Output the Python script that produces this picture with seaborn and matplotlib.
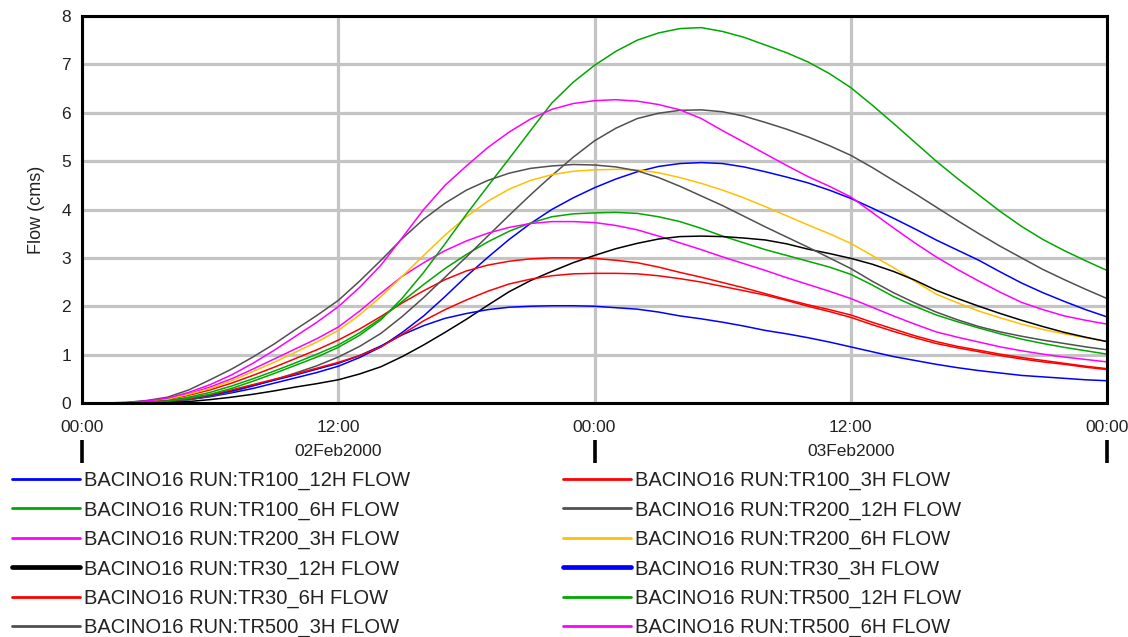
import numpy as np
import pandas as pd
import matplotlib
matplotlib.use("Agg")
import matplotlib.pyplot as plt
import matplotlib.transforms as mtransforms
from matplotlib.lines import Line2D
import seaborn as sns

# ---------------- data ----------------
hours = list(range(0, 49))  # hours since 02Feb2000 00:00
tick_hours = [0, 12, 24, 36, 48]
tick_labels = ["00:00", "12:00", "00:00", "12:00", "00:00"]
day_starts = [0, 24, 48]
day_label_hours = [12, 36]
day_labels = ["02Feb2000", "03Feb2000"]
y_ticks = [0, 1, 2, 3, 4, 5, 6, 7, 8]

tr100_12h = [0, 0, 0, 0.01, 0.03, 0.07, 0.13, 0.21, 0.30, 0.41, 0.52, 0.63, 0.76, 0.94, 1.16, 1.46,
             1.80, 2.20, 2.62, 3.01, 3.38, 3.71, 4.00, 4.24, 4.45, 4.63, 4.78, 4.89, 4.95, 4.97,
             4.95, 4.88, 4.78, 4.67, 4.55, 4.40, 4.23, 4.03, 3.82, 3.60, 3.37, 3.16, 2.95, 2.71,
             2.48, 2.28, 2.10, 1.93, 1.78]
tr100_3h = [0, 0, 0, 0.03, 0.07, 0.16, 0.27, 0.41, 0.57, 0.74, 0.92, 1.10, 1.30, 1.53, 1.79, 2.07,
            2.32, 2.55, 2.73, 2.85, 2.93, 2.98, 3.00, 3.00, 2.99, 2.95, 2.90, 2.81, 2.70, 2.60,
            2.49, 2.38, 2.26, 2.14, 2.03, 1.93, 1.82, 1.67, 1.53, 1.39, 1.27, 1.17, 1.09, 1.01,
            0.94, 0.88, 0.82, 0.76, 0.71]
tr100_6h = [0, 0, 0, 0.02, 0.05, 0.12, 0.22, 0.35, 0.50, 0.66, 0.83, 1.01, 1.20, 1.45, 1.75, 2.10,
            2.45, 2.78, 3.07, 3.33, 3.55, 3.72, 3.85, 3.91, 3.93, 3.94, 3.92, 3.85, 3.75, 3.61,
            3.45, 3.31, 3.17, 3.05, 2.93, 2.81, 2.66, 2.44, 2.20, 2.00, 1.82, 1.68, 1.55, 1.43,
            1.32, 1.23, 1.15, 1.08, 1.01]
tr200_12h = [0, 0, 0, 0.01, 0.03, 0.07, 0.14, 0.23, 0.35, 0.48, 0.62, 0.77, 0.95, 1.17, 1.44, 1.79,
             2.18, 2.60, 3.02, 3.45, 3.88, 4.30, 4.70, 5.08, 5.42, 5.68, 5.88, 5.99, 6.05, 6.06,
             6.02, 5.93, 5.80, 5.66, 5.50, 5.32, 5.12, 4.87, 4.60, 4.33, 4.05, 3.77, 3.50, 3.24,
             3.00, 2.76, 2.55, 2.35, 2.16]
tr200_3h = [0, 0, 0, 0.04, 0.09, 0.19, 0.33, 0.50, 0.70, 0.91, 1.12, 1.33, 1.57, 1.90, 2.27, 2.62,
            2.90, 3.15, 3.35, 3.51, 3.63, 3.71, 3.75, 3.75, 3.73, 3.67, 3.58, 3.45, 3.31, 3.17,
            3.02, 2.88, 2.74, 2.59, 2.45, 2.31, 2.16, 1.98, 1.80, 1.63, 1.47, 1.36, 1.26, 1.16,
            1.08, 1.01, 0.95, 0.90, 0.85]
tr200_6h = [0, 0, 0, 0.03, 0.08, 0.18, 0.30, 0.46, 0.65, 0.84, 1.05, 1.26, 1.50, 1.82, 2.20, 2.62,
            3.05, 3.47, 3.85, 4.17, 4.42, 4.60, 4.72, 4.79, 4.82, 4.83, 4.82, 4.76, 4.66, 4.54,
            4.40, 4.24, 4.06, 3.87, 3.68, 3.50, 3.30, 3.05, 2.80, 2.52, 2.25, 2.07, 1.90, 1.76,
            1.63, 1.52, 1.43, 1.35, 1.27]
tr30_12h = [0, 0, 0, 0, 0.01, 0.03, 0.07, 0.12, 0.18, 0.25, 0.33, 0.40, 0.48, 0.60, 0.75, 0.96,
            1.20, 1.46, 1.73, 2.02, 2.30, 2.53, 2.72, 2.90, 3.05, 3.19, 3.30, 3.39, 3.44, 3.45,
            3.44, 3.41, 3.37, 3.29, 3.18, 3.09, 2.99, 2.87, 2.72, 2.54, 2.33, 2.16, 2.00, 1.85,
            1.71, 1.58, 1.46, 1.36, 1.27]
tr30_3h = [0, 0, 0, 0.02, 0.04, 0.09, 0.16, 0.25, 0.36, 0.47, 0.58, 0.70, 0.82, 0.98, 1.18, 1.41,
           1.60, 1.75, 1.85, 1.93, 1.98, 2.00, 2.01, 2.01, 2.00, 1.97, 1.94, 1.88, 1.80, 1.74,
           1.67, 1.59, 1.50, 1.43, 1.35, 1.26, 1.16, 1.06, 0.96, 0.88, 0.80, 0.73, 0.67, 0.62,
           0.57, 0.54, 0.51, 0.48, 0.46]
tr30_6h = [0, 0, 0, 0.02, 0.04, 0.09, 0.17, 0.27, 0.38, 0.49, 0.60, 0.72, 0.84, 0.98, 1.16, 1.42,
           1.70, 1.93, 2.13, 2.31, 2.46, 2.56, 2.63, 2.67, 2.68, 2.68, 2.67, 2.63, 2.57, 2.50,
           2.41, 2.32, 2.23, 2.12, 2.00, 1.89, 1.77, 1.62, 1.48, 1.35, 1.23, 1.14, 1.06, 0.98,
           0.91, 0.85, 0.80, 0.74, 0.69]
tr500_12h = [0, 0, 0, 0.01, 0.04, 0.10, 0.18, 0.30, 0.45, 0.61, 0.78, 0.95, 1.15, 1.40, 1.72, 2.17,
             2.70, 3.29, 3.90, 4.48, 5.05, 5.63, 6.20, 6.63, 6.98, 7.27, 7.50, 7.65, 7.74, 7.76,
             7.68, 7.56, 7.40, 7.24, 7.05, 6.81, 6.52, 6.16, 5.78, 5.39, 5.00, 4.64, 4.30, 3.96,
             3.65, 3.38, 3.15, 2.94, 2.74]
tr500_3h = [0, 0, 0.01, 0.05, 0.12, 0.27, 0.48, 0.70, 0.95, 1.22, 1.52, 1.81, 2.12, 2.52, 2.95, 3.40,
            3.80, 4.13, 4.40, 4.60, 4.75, 4.85, 4.90, 4.93, 4.92, 4.88, 4.80, 4.66, 4.48, 4.28,
            4.08, 3.86, 3.64, 3.43, 3.22, 3.00, 2.78, 2.52, 2.28, 2.07, 1.88, 1.72, 1.58, 1.47,
            1.38, 1.30, 1.23, 1.16, 1.10]
tr500_6h = [0, 0, 0.01, 0.04, 0.10, 0.22, 0.38, 0.58, 0.82, 1.09, 1.38, 1.67, 1.99, 2.39, 2.85, 3.42,
            4.00, 4.50, 4.90, 5.28, 5.60, 5.87, 6.07, 6.19, 6.25, 6.27, 6.24, 6.17, 6.06, 5.88,
            5.63, 5.39, 5.15, 4.91, 4.68, 4.48, 4.26, 3.94, 3.62, 3.31, 3.02, 2.76, 2.52, 2.29,
            2.08, 1.93, 1.80, 1.71, 1.63]

names = [
    "BACINO16 RUN:TR100_12H FLOW", "BACINO16 RUN:TR100_3H FLOW",
    "BACINO16 RUN:TR100_6H FLOW", "BACINO16 RUN:TR200_12H FLOW",
    "BACINO16 RUN:TR200_3H FLOW", "BACINO16 RUN:TR200_6H FLOW",
    "BACINO16 RUN:TR30_12H FLOW", "BACINO16 RUN:TR30_3H FLOW",
    "BACINO16 RUN:TR30_6H FLOW", "BACINO16 RUN:TR500_12H FLOW",
    "BACINO16 RUN:TR500_3H FLOW", "BACINO16 RUN:TR500_6H FLOW",
]
values = [tr100_12h, tr100_3h, tr100_6h, tr200_12h, tr200_3h, tr200_6h,
          tr30_12h, tr30_3h, tr30_6h, tr500_12h, tr500_3h, tr500_6h]
colors = ["#0000FF", "#FF0000", "#00A800", "#505050", "#FF00FF", "#FFC000",
          "#000000", "#0000FF", "#FF0000", "#00A800", "#505050", "#FF00FF"]
legend_widths = [2.0, 2.0, 2.0, 2.0, 2.0, 2.0, 3.4, 3.4, 2.0, 2.0, 2.0, 2.0]

df = pd.concat([pd.DataFrame({"hour": hours, "flow": v, "series": n})
                for n, v in zip(names, values)], ignore_index=True)
palette = dict(zip(names, colors))

# ---------------- style ----------------
sns.set_style("white")
plt.rcParams["font.family"] = ["Liberation Sans", "DejaVu Sans"]

W, H = 1128, 637
fig = plt.figure(figsize=(W / 100, H / 100), dpi=100)
ax_l, ax_r, ax_t, ax_b = 82, 1107, 16, 403
ax = fig.add_axes([ax_l / W, 1 - ax_b / H, (ax_r - ax_l) / W, (ax_b - ax_t) / H])

sns.lineplot(data=df, x="hour", y="flow", hue="series", hue_order=names,
             palette=palette, linewidth=1.1, legend=False, ax=ax,
             estimator=None, errorbar=None)

ax.set_xlim(0, 48)
ax.set_ylim(0, 8)
ax.set_xticks(tick_hours)
ax.set_xticklabels(tick_labels)
ax.set_yticks(y_ticks)
ax.set_yticklabels([str(t) for t in y_ticks])
ax.tick_params(axis="both", direction="out", length=5, width=2.2, color="black",
               labelsize=12.5, labelcolor="#222222")
ax.tick_params(axis="x", pad=7)
ax.tick_params(axis="y", pad=3)
ax.grid(True, color="#c4c4c4", linewidth=2.3)
ax.set_axisbelow(True)
for sp in ax.spines.values():
    sp.set_visible(True)
    sp.set_color("black")
    sp.set_linewidth(2.2)

ax.set_xlabel("")
ax.set_ylabel("Flow (cms)", fontsize=13, color="#222222")
ax.yaxis.set_label_coords(-(ax_l - 45) / (ax_r - ax_l), 0.5)

trans = mtransforms.blended_transform_factory(ax.transData, ax.transAxes)
ax.vlines(day_starts, -(463 - ax_b) / (ax_b - ax_t), -(440 - ax_b) / (ax_b - ax_t),
          transform=trans, colors="black", linewidth=2.6, clip_on=False)
for hx, lab in zip(day_label_hours, day_labels):
    ax.text(hx, -(452 - ax_b) / (ax_b - ax_t), lab, transform=trans,
            ha="center", va="center", fontsize=12.5, color="#222222")

# legend: alphabetical order row-wise in 2 columns
handles = [Line2D([], [], color=c, linewidth=w) for c, w in zip(colors, legend_widths)]
order = list(range(0, 12, 2)) + list(range(1, 12, 2))
leg = fig.legend([handles[i] for i in order], [names[i] for i in order],
                 loc="upper left", bbox_to_anchor=(12 / W, 1 - 471 / H),
                 ncol=2, frameon=False, fontsize=14.5, handlelength=3.38,
                 handletextpad=0.2, columnspacing=7.6, labelspacing=0.505,
                 borderpad=0, borderaxespad=0)
for t in leg.get_texts():
    t.set_color("#222222")

fig.savefig("out.png", dpi=100)
